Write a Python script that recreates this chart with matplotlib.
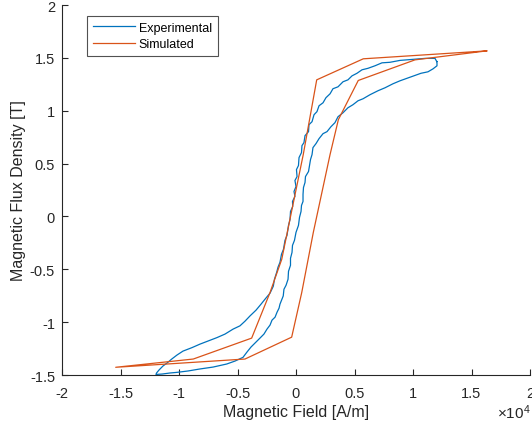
import matplotlib
matplotlib.use("Agg")
import matplotlib.pyplot as plt

plt.rcParams['font.family'] = ['Liberation Sans', 'DejaVu Sans']
plt.rcParams['axes.unicode_minus'] = False
plt.rcParams['mathtext.fontset'] = 'custom'
plt.rcParams['mathtext.rm'] = 'Liberation Sans'
plt.rcParams['mathtext.it'] = 'Liberation Sans'

# Magnetic field in units of 1e4 A/m, flux density in T
exp_H = [1.203, 1.188, 1.103, 1.000, 0.889, 0.803, 0.735, 0.675, 0.615, 0.564,
         0.521, 0.479, 0.444, 0.402, 0.359, 0.316, 0.291, 0.256, 0.231, 0.197,
         0.179, 0.154, 0.137, 0.111, 0.107, 0.077, 0.068, 0.051, 0.047, 0.026,
         0.021, 0.004, 0.009, -0.009, 0.000, -0.017, -0.009, -0.030, -0.028, -0.047,
         -0.051, -0.064, -0.077, -0.094, -0.107, -0.124, -0.137, -0.154, -0.165, -0.184,
         -0.194, -0.222, -0.265, -0.299, -0.342, -0.393, -0.436, -0.479, -0.538, -0.607,
         -0.675, -0.752, -0.821, -0.889, -0.966, -1.017, -1.062, -1.103, -1.137, -1.171,
         -1.192, -1.197,
         -1.145, -1.077, -1.017, -0.923, -0.821, -0.709, -0.592, -0.521, -0.453, -0.419,
         -0.385, -0.342, -0.308, -0.274, -0.248, -0.222, -0.205, -0.179, -0.162, -0.145,
         -0.137, -0.120, -0.109, -0.103, -0.085, -0.068, -0.064, -0.047, -0.047, -0.034,
         -0.030, -0.013, 0.000, 0.021, 0.030, 0.043, 0.047, 0.060, 0.060, 0.064,
         0.077, 0.081, 0.107, 0.115, 0.124, 0.137, 0.145, 0.171, 0.197, 0.231,
         0.265, 0.299, 0.333, 0.359, 0.402, 0.444, 0.487, 0.530, 0.573, 0.632,
         0.701, 0.761, 0.829, 0.889, 0.949, 1.009, 1.068, 1.128, 1.171, 1.205,
         1.205]
exp_B = [1.465, 1.495, 1.495, 1.486, 1.476, 1.458, 1.453, 1.425, 1.401, 1.387,
         1.354, 1.330, 1.292, 1.274, 1.226, 1.208, 1.160, 1.123, 1.075, 1.047,
         0.991, 0.962, 0.896, 0.868, 0.802, 0.764, 0.698, 0.670, 0.604, 0.557,
         0.481, 0.443, 0.377, 0.340, 0.283, 0.236, 0.189, 0.142, 0.094, 0.047,
         -0.028, -0.085, -0.179, -0.226, -0.311, -0.358, -0.434, -0.481, -0.528, -0.594,
         -0.660, -0.726, -0.783, -0.830, -0.887, -0.941, -0.991, -1.035, -1.066, -1.113,
         -1.146, -1.179, -1.208, -1.241, -1.274, -1.311, -1.349, -1.387, -1.415, -1.453,
         -1.481, -1.495,
         -1.491, -1.481, -1.475, -1.462, -1.443, -1.425, -1.396, -1.368, -1.333, -1.283,
         -1.236, -1.189, -1.151, -1.113, -1.066, -1.028, -0.981, -0.953, -0.906, -0.868,
         -0.830, -0.783, -0.752, -0.689, -0.651, -0.594, -0.519, -0.462, -0.396, -0.340,
         -0.274, -0.226, -0.151, -0.085, -0.009, 0.047, 0.104, 0.142, 0.208, 0.274,
         0.321, 0.377, 0.425, 0.481, 0.538, 0.585, 0.651, 0.689, 0.736, 0.783,
         0.802, 0.849, 0.887, 0.943, 0.981, 1.028, 1.057, 1.094, 1.113, 1.151,
         1.189, 1.217, 1.255, 1.283, 1.307, 1.330, 1.354, 1.368, 1.396, 1.425,
         1.465]

sim_H = [1.630, 0.575, 0.177, 0.062, -0.122, -0.222, -0.379, -0.878, -1.541,
         -0.436, -0.037, 0.049, 0.148, 0.291, 0.362, 0.532, 1.017, 1.630]
sim_B = [1.566, 1.491, 1.292, 0.585, -0.406, -0.720, -1.151, -1.349, -1.427,
         -1.349, -1.142, -0.720, -0.151, 0.585, 0.915, 1.286, 1.481, 1.566]

x_ticks = [-2, -1.5, -1, -0.5, 0, 0.5, 1, 1.5, 2]
y_ticks = [-1.5, -1, -0.5, 0, 0.5, 1, 1.5, 2]

fig = plt.figure(figsize=(5.32, 4.27), dpi=100)
ax = fig.add_axes([62/532, 51/427, 468/532, 370/427])

ax.plot(exp_H, exp_B, color='#0072BD', lw=0.9, label='Experimental')
ax.plot(sim_H, sim_B, color='#D95319', lw=0.9, label='Simulated')

ax.set_xlim(-2, 2)
ax.set_ylim(-1.5, 2)
ax.set_xticks(x_ticks)
ax.set_yticks(y_ticks)
ax.set_xticklabels([f'{v:g}' for v in x_ticks])
ax.set_yticklabels([f'{v:g}' for v in y_ticks])
ax.spines['top'].set_visible(False)
ax.spines['right'].set_visible(False)
for s in ['left', 'bottom']:
    ax.spines[s].set_color('#262626')
    ax.spines[s].set_linewidth(0.8)
ax.tick_params(direction='in', length=4, width=0.8, colors='#262626',
               labelsize=10.5, labelcolor='#262626')
ax.tick_params(axis='x', pad=8)
ax.tick_params(axis='y', pad=5)
ax.set_xlabel('Magnetic Field [A/m]', fontsize=11.5, color='#262626', labelpad=3)
ax.set_ylabel('Magnetic Flux Density [T]', fontsize=11.5, color='#262626', labelpad=3)
fig.text(0.998, 0.012, r'$\times10^{4}$', ha='right', va='bottom', fontsize=11,
         color='#262626')

leg = ax.legend(loc='upper left', bbox_to_anchor=(25/468, 1 - 11/370), fontsize=9,
                handlelength=3.4, frameon=True, fancybox=False, edgecolor='#262626',
                borderpad=0.45, labelspacing=0.35, handletextpad=0.3,
                borderaxespad=0)
leg.get_frame().set_linewidth(0.8)

fig.savefig('out.png', dpi=100)
